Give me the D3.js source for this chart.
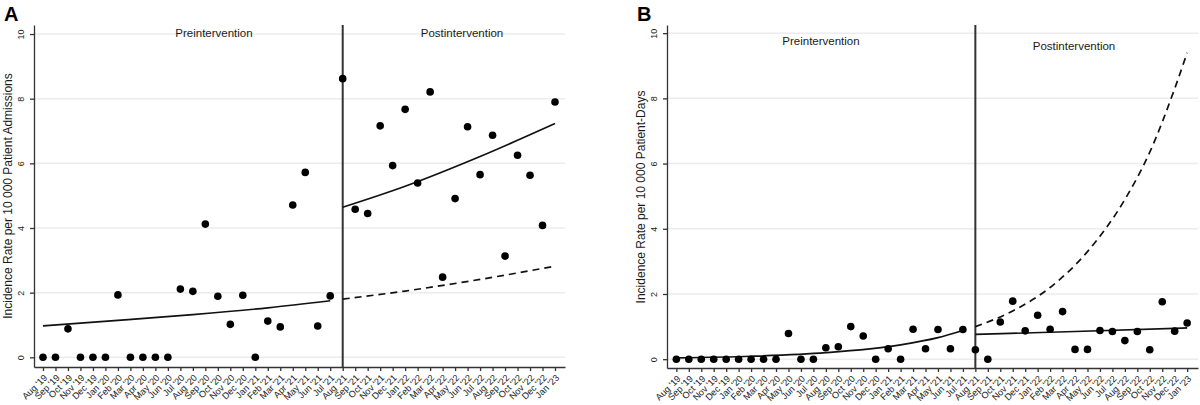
<!DOCTYPE html>
<html lang="en">
<head>
	<meta charset="utf-8">
	<script src="https://d3js.org/d3.v7.min.js"></script>
	<title>Incidence Rate ITS</title>
	<style>
		body { margin: 0; background: #fff; }
		text { font-family: "Liberation Sans", Arial, sans-serif; fill: #1a1a1a; }
	</style>
</head>
<body>
	<script type="text/javascript">
		// month labels on the x axis (index 0 = Aug '19)
		var months = ["Aug '19", "Sep '19", "Oct '19", "Nov '19", "Dec '19", "Jan '20", "Feb '20", "Mar '20",
			"Apr '20", "May '20", "Jun '20", "Jul '20", "Aug '20", "Sep '20", "Oct '20", "Nov '20", "Dec '20",
			"Jan '21", "Feb '21", "Mar '21", "Apr '21", "May '21", "Jun '21", "Jul '21", "Aug '21", "Sep '21",
			"Oct '21", "Nov '21", "Dec '21", "Jan '22", "Feb '22", "Mar '22", "Apr '22", "May '22", "Jun '22",
			"Jul '22", "Aug '22", "Sep '22", "Oct '22", "Nov '22", "Dec '22", "Jan '23"];

		var yTicks = [0, 2, 4, 6, 8, 10];
		var interventionIndex = 24;

		// panel A: observed monthly rates per 10 000 admissions
		var ratesA = [0, 0, 0.88, 0, 0, 0, 1.93, 0, 0, 0, 0, 2.11, 2.04, 4.12, 1.89, 1.02, 1.92, 0,
			1.12, 0.94, 4.71, 5.72, 0.97, 1.90, 8.62, 4.58, 4.45, 7.16, 5.93, 7.67, 5.39, 8.21, 2.48,
			4.91, 7.13, 5.65, 6.87, 3.13, 6.25, 5.63, 4.08, 7.90];
		// panel A fitted curves, [month index, value]
		var fitPreA = [[0, 0.97], [6, 1.14], [12, 1.32], [18, 1.53], [23, 1.75]];
		var fitPostA = [[24, 4.64], [29, 5.29], [35, 6.21], [41, 7.23]];
		var counterA = [[24, 1.80], [29, 2.05], [35, 2.41], [41, 2.82]];

		// panel B: observed monthly rates per 10 000 patient-days
		var ratesB = [0, 0, 0, 0, 0, 0, 0, 0, 0, 0.79, 0, 0, 0.35, 0.38, 1.00, 0.71, 0, 0.32, 0,
			0.92, 0.32, 0.91, 0.32, 0.91, 0.29, 0, 1.14, 1.78, 0.87, 1.35, 0.92, 1.46, 0.30, 0.30,
			0.88, 0.85, 0.57, 0.85, 0.29, 1.76, 0.86, 1.11];
		var fitPreB = [[0, 0.04], [6, 0.09], [12, 0.20], [18, 0.44], [21, 0.66], [23, 0.88]];
		var fitPostB = [[24, 0.76], [32, 0.85], [41, 0.96]];
		var counterB = [[24, 1.00], [27, 1.48], [30, 2.20], [33, 3.30], [36, 4.90], [38, 6.35], [40, 8.30], [41, 9.40]];

		var svg = d3.select("body")
			.append("svg")
			.attr("width", 1200)
			.attr("height", 405);

		function drawPanel(p) {
			var g = svg.append("g");

			var x = d3.scaleLinear()
				.domain(p.xDomain)
				.range([p.left, p.right]);
			var y = d3.scaleLinear()
				.domain(p.yDomain)
				.range([p.bottom, p.top]);

			// light horizontal gridlines
			g.selectAll(".grid")
				.data(yTicks)
				.enter()
				.append("line")
				.attr("x1", p.left + 1)
				.attr("x2", p.right)
				.attr("y1", function(d) { return y(d); })
				.attr("y2", function(d) { return y(d); })
				.style("stroke", "#ececec")
				.style("stroke-width", 1.5);

			// x axis
			var xAxis = g.append("g")
				.attr("transform", "translate(0," + p.bottom + ")")
				.call(d3.axisBottom(x)
					.tickValues(d3.range(months.length))
					.tickFormat(function(i) { return months[i]; })
					.tickSize(4)
					.tickSizeOuter(0));
			xAxis.selectAll("text")
				.attr("x", 0)
				.attr("y", 0)
				.attr("dy", "0.35em")
				.attr("transform", "translate(2,9) rotate(-45)")
				.style("text-anchor", "end")
				.style("font-size", "9.2px");

			// y axis
			var yAxis = g.append("g")
				.attr("transform", "translate(" + p.left + ",0)")
				.call(d3.axisLeft(y)
					.tickValues(yTicks)
					.tickSize(4)
					.tickSizeOuter(0));
			yAxis.selectAll("text")
				.attr("x", 0)
				.attr("y", 0)
				.attr("dy", "0.35em")
				.attr("transform", "translate(-13,0) rotate(-90)")
				.style("text-anchor", "middle")
				.style("font-size", "9px");

			g.selectAll(".domain, .tick line")
				.style("stroke", "#333")
				.style("stroke-width", 1.3);

			// intervention line
			g.append("line")
				.attr("x1", x(interventionIndex))
				.attr("x2", x(interventionIndex))
				.attr("y1", p.top)
				.attr("y2", p.bottom)
				.style("stroke", "#333")
				.style("stroke-width", 2);

			// fitted curves
			var line = d3.line()
				.x(function(d) { return x(d[0]); })
				.y(function(d) { return y(d[1]); })
				.curve(d3.curveMonotoneX);

			[p.fitPre, p.fitPost].forEach(function(fit) {
				g.append("path")
					.attr("d", line(fit))
					.style("fill", "none")
					.style("stroke", "#111")
					.style("stroke-width", 1.7);
			});
			g.append("path")
				.attr("d", line(p.counter))
				.style("fill", "none")
				.style("stroke", "#111")
				.style("stroke-width", 1.7)
				.style("stroke-dasharray", "7,5");

			// observed points
			g.selectAll("circle")
				.data(p.rates)
				.enter()
				.append("circle")
				.attr("cx", function(d, i) { return x(i); })
				.attr("cy", function(d) { return y(d); })
				.attr("r", 3.8)
				.style("fill", "#000");

			// axis title
			g.append("text")
				.attr("transform", "translate(" + p.titleX + "," + p.titleY + ") rotate(-90)")
				.style("text-anchor", "middle")
				.style("font-size", "12px")
				.text(p.yTitle);

			// period labels
			g.append("text")
				.attr("x", p.preX)
				.attr("y", p.labelY)
				.style("text-anchor", "middle")
				.style("font-size", "11.5px")
				.text("Preintervention");
			g.append("text")
				.attr("x", p.postX)
				.attr("y", p.labelY2)
				.style("text-anchor", "middle")
				.style("font-size", "11.5px")
				.text("Postintervention");

			// panel letter
			g.append("text")
				.attr("x", p.letterX)
				.attr("y", 21)
				.style("font-size", "20px")
				.style("font-weight", "bold")
				.style("fill", "#000")
				.text(p.letter);
		}

		drawPanel({
			letter: "A", letterX: 4,
			left: 34, right: 565, top: 25, bottom: 367,
			xDomain: [-0.72, 41.8], yDomain: [-0.3, 10.28],
			rates: ratesA, fitPre: fitPreA, fitPost: fitPostA, counter: counterA,
			yTitle: "Incidence Rate per 10 000 Patient Admissions",
			titleX: 12, titleY: 196,
			preX: 214, postX: 462, labelY: 37, labelY2: 37
		});

		drawPanel({
			letter: "B", letterX: 637,
			left: 667, right: 1198, top: 25, bottom: 368,
			xDomain: [-0.75, 41.87], yDomain: [-0.27, 10.25],
			rates: ratesB, fitPre: fitPreB, fitPost: fitPostB, counter: counterB,
			yTitle: "Incidence Rate per 10 000 Patient-Days",
			titleX: 645, titleY: 197,
			preX: 821, postX: 1074, labelY: 45, labelY2: 50
		});
	</script>
</body>
</html>
